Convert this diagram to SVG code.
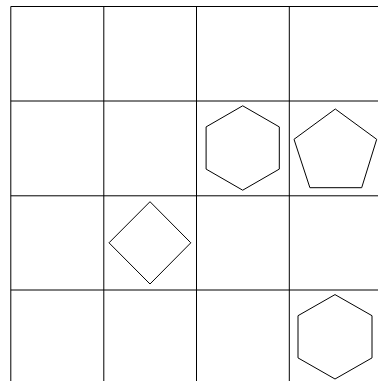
<svg xmlns="http://www.w3.org/2000/svg" width="378" height="381" viewBox="0 0 378 381">
<style>
.grid line{stroke:#000;stroke-width:1}
.shape{fill:none;stroke:#000;stroke-width:1}
</style>
<rect width="378" height="381" fill="#fff"/>
<g id="grid" class="grid">
<line x1="10.8" y1="6.5" x2="10.8" y2="381"/>
<line x1="103.8" y1="6.5" x2="103.8" y2="381"/>
<line x1="196.5" y1="6.5" x2="196.5" y2="381"/>
<line x1="289.3" y1="6.5" x2="289.3" y2="381"/>
<line x1="10.8" y1="6.5" x2="378" y2="6.5"/>
<line x1="10.8" y1="101" x2="378" y2="101"/>
<line x1="10.8" y1="195.8" x2="378" y2="195.8"/>
<line x1="10.8" y1="290" x2="378" y2="290"/>
</g>
<g id="hexagon1"><polygon class="shape" points="242.7,105.8 279.3,126.9 279.3,169.1 242.7,190.2 206.1,169.1 206.1,126.9"/></g>
<g id="pentagon"><polygon class="shape" points="335.3,109 376.7,139.3 361.7,187.7 309.9,187.7 294,139.3"/></g>
<g id="diamond"><polygon class="shape" points="150,201.7 190.8,242.8 150,284 109,242.8"/></g>
<g id="hexagon2"><polygon class="shape" points="335,294.6 372,315.7 372,357.9 335,379 298,357.9 298,315.7"/></g>
</svg>
